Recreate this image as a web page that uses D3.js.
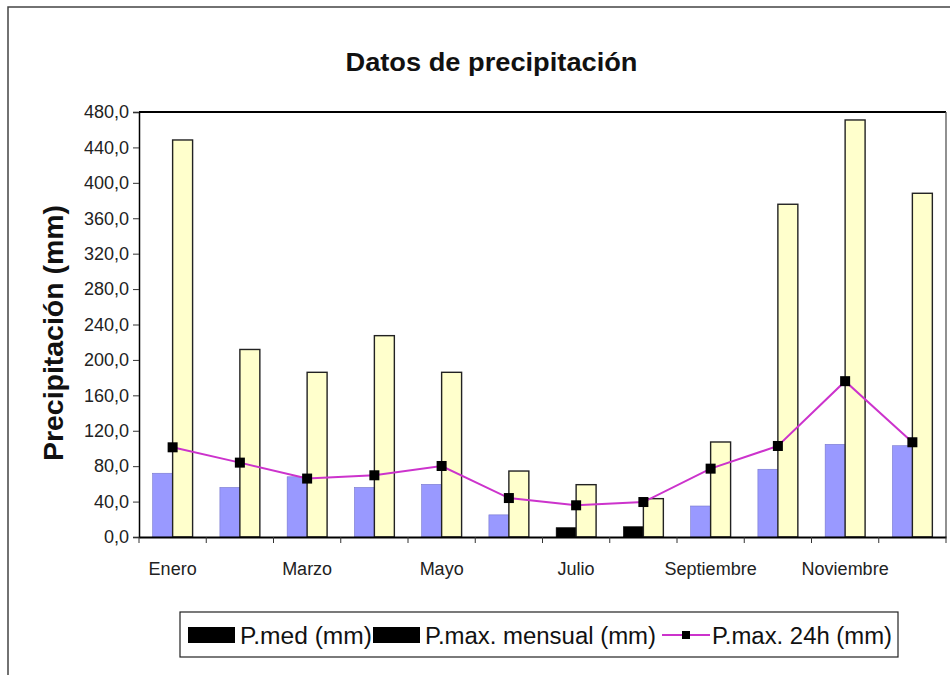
<!DOCTYPE html>
<html>
<head>
<meta charset="utf-8">
<script src="https://cdn.jsdelivr.net/npm/d3@7"></script>
<style>
  body { margin: 0; background: #fff; }
  text { font-family: "Liberation Sans", Arial, sans-serif; }
</style>
</head>
<body>
<div id="chart"></div>
<script>
// data
var meses = ["Enero", "Febrero", "Marzo", "Abril", "Mayo", "Junio", "Julio", "Agosto", "Septiembre", "Octubre", "Noviembre", "Diciembre"];
var pMed = [72, 56, 68, 56, 59.5, 25, 10.5, 11.6, 35, 76.5, 104.7, 103.1];
var pMaxMensual = [448.4, 211.8, 186, 227.4, 186, 74.5, 59.1, 43.3, 107.3, 375.8, 471, 388.2];
var pMax24h = [101.3, 84, 66, 69.7, 80.2, 44, 35.8, 39.5, 77.2, 102.8, 176, 107];
var yTicks = [0, 40, 80, 120, 160, 200, 240, 280, 320, 360, 400, 440, 480];
var seriesNames = ["P.med (mm)", "P.max. mensual (mm)", "P.max. 24h (mm)"];

var W = 950, H = 675;
var plot = { left: 139, right: 946, top: 112, bottom: 537 };

var svg = d3.select("#chart").append("svg")
  .attr("width", W)
  .attr("height", H);

// chart area frame
svg.append("rect")
  .attr("x", 8).attr("y", 7)
  .attr("width", 960).attr("height", 700)
  .attr("fill", "#fff")
  .attr("stroke", "#444")
  .attr("stroke-width", 1.5);

var x = d3.scaleBand()
  .domain(meses)
  .range([plot.left, plot.right])
  .padding(0);

var bw = x.bandwidth();
var xs = d3.scaleBand()
  .domain([0, 1])
  .range([bw * 0.203, bw * 0.797])
  .padding(0);

var y = d3.scaleLinear()
  .domain([0, 480])
  .range([plot.bottom, plot.top]);

// plot area border: thick top, thin right
svg.append("line")
  .attr("x1", plot.left).attr("x2", plot.right)
  .attr("y1", plot.top).attr("y2", plot.top)
  .attr("stroke", "#000").attr("stroke-width", 2.2);
svg.append("line")
  .attr("x1", plot.right).attr("x2", plot.right)
  .attr("y1", plot.top).attr("y2", plot.bottom)
  .attr("stroke", "#555").attr("stroke-width", 1.3);

// bars
var bars = svg.append("g");
bars.selectAll(".med")
  .data(pMed)
  .enter().append("rect")
  .attr("class", "med")
  .attr("x", function(d, i) { return x(meses[i]) + xs(0); })
  .attr("y", function(d) { return y(d); })
  .attr("width", xs.bandwidth())
  .attr("height", function(d) { return y(0) - y(d); })
  .attr("fill", function(d, i) { return (i == 6 || i == 7) ? "#000" : "#9999ff"; })
  .attr("stroke", function(d, i) { return (i == 6 || i == 7) ? "#000" : "#7777cc"; })
  .attr("stroke-width", 0.6);

bars.selectAll(".mens")
  .data(pMaxMensual)
  .enter().append("rect")
  .attr("class", "mens")
  .attr("x", function(d, i) { return x(meses[i]) + xs(1); })
  .attr("y", function(d) { return y(d); })
  .attr("width", xs.bandwidth())
  .attr("height", function(d) { return y(0) - y(d); })
  .attr("fill", "#ffffcc")
  .attr("stroke", "#222")
  .attr("stroke-width", 1.4);

// 24h line
var line = d3.line()
  .x(function(d, i) { return x(meses[i]) + bw / 2; })
  .y(function(d) { return y(d); });

svg.append("path")
  .datum(pMax24h)
  .attr("d", line)
  .attr("fill", "none")
  .attr("stroke", "#cc33cc")
  .attr("stroke-width", 2);

svg.selectAll(".mk")
  .data(pMax24h)
  .enter().append("rect")
  .attr("class", "mk")
  .attr("x", function(d, i) { return x(meses[i]) + bw / 2 - 5; })
  .attr("y", function(d) { return y(d) - 5; })
  .attr("width", 10).attr("height", 10)
  .attr("fill", "#000");

// y axis
var yAxis = svg.append("g")
  .attr("transform", "translate(" + plot.left + ",0)")
  .call(d3.axisLeft(y).tickValues(yTicks).tickSize(6).tickPadding(4)
    .tickFormat(function(d) { return d3.format(".1f")(d).replace(".", ","); }));
yAxis.select(".domain").attr("stroke", "#000").attr("stroke-width", 1.5);
yAxis.selectAll("line").attr("stroke", "#333");
yAxis.selectAll("text").style("font-size", "18px").attr("fill", "#222");

// x axis: ticks on band edges, labels every other month
var xAxis = svg.append("g")
  .attr("transform", "translate(0," + plot.bottom + ")")
  .call(d3.axisBottom(x).tickSize(0).tickPadding(25)
    .tickFormat(function(d, i) { return i % 2 == 0 ? d : ""; }));
xAxis.select(".domain").attr("stroke", "#000").attr("stroke-width", 2);
xAxis.selectAll("text").style("font-size", "18px").attr("fill", "#222");

xAxis.selectAll(".edge")
  .data(meses.concat(["fin"]))
  .enter().append("line")
  .attr("class", "edge")
  .attr("x1", function(d, i) { return i < meses.length ? x(d) : plot.right; })
  .attr("x2", function(d, i) { return i < meses.length ? x(d) : plot.right; })
  .attr("y1", 0).attr("y2", 6)
  .attr("stroke", "#333");

// title and y label
svg.append("text")
  .attr("x", 491.5).attr("y", 71)
  .attr("text-anchor", "middle")
  .attr("textLength", 292)
  .attr("lengthAdjust", "spacingAndGlyphs")
  .style("font-size", "26px")
  .style("font-weight", "bold")
  .attr("fill", "#111")
  .text("Datos de precipitación");

svg.append("text")
  .attr("transform", "translate(63,333) rotate(-90)")
  .attr("text-anchor", "middle")
  .attr("textLength", 256)
  .attr("lengthAdjust", "spacingAndGlyphs")
  .style("font-size", "27px")
  .style("font-weight", "bold")
  .attr("fill", "#111")
  .text("Precipitación (mm)");

// legend
var lg = svg.append("g");
lg.append("rect")
  .attr("x", 180).attr("y", 612)
  .attr("width", 718).attr("height", 45)
  .attr("fill", "#fff")
  .attr("stroke", "#222")
  .attr("stroke-width", 1.2);

var lgItems = [
  { sx: 188, tx: 240, tw: 132, kind: "box" },
  { sx: 373, tx: 425, tw: 231, kind: "box" },
  { sx: 662, tx: 712, tw: 180, kind: "line" }
];
lgItems.forEach(function(it, i) {
  if (it.kind == "box") {
    lg.append("rect")
      .attr("x", it.sx).attr("y", 627)
      .attr("width", 47).attr("height", 16)
      .attr("fill", "#000");
  } else {
    lg.append("line")
      .attr("x1", it.sx).attr("x2", it.sx + 48)
      .attr("y1", 635).attr("y2", 635)
      .attr("stroke", "#cc33cc").attr("stroke-width", 2);
    lg.append("rect")
      .attr("x", it.sx + 20).attr("y", 631)
      .attr("width", 8).attr("height", 8)
      .attr("fill", "#000");
  }
  lg.append("text")
    .attr("x", it.tx).attr("y", 644)
    .attr("textLength", it.tw)
    .attr("lengthAdjust", "spacingAndGlyphs")
    .style("font-size", "23px")
    .attr("fill", "#111")
    .text(seriesNames[i]);
});
</script>
</body>
</html>
